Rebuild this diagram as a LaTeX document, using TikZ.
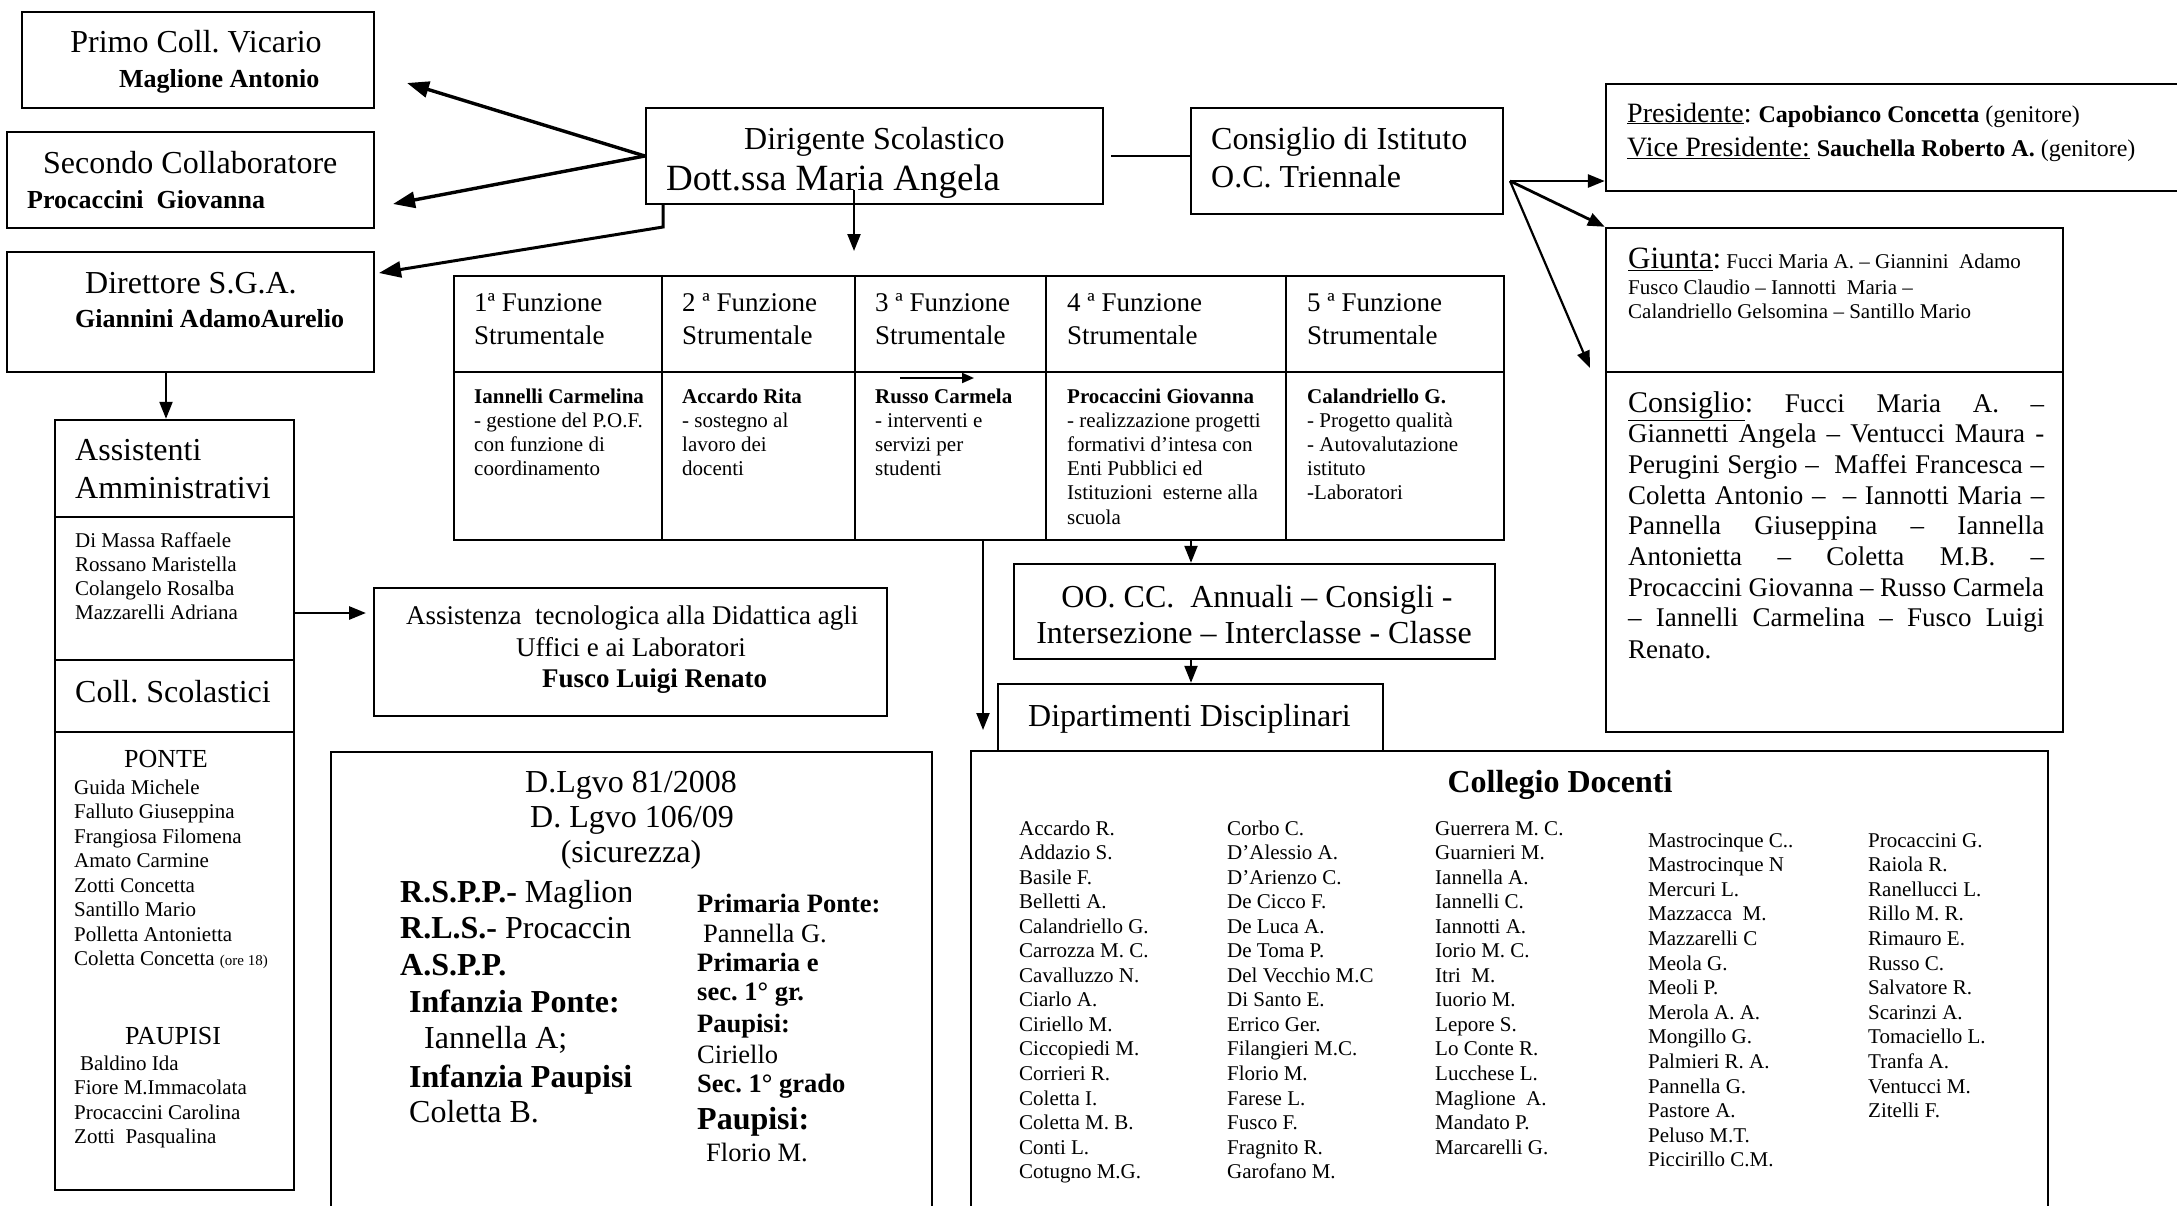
\documentclass[tikz,border=0pt]{standalone}
\usepackage{fontspec}
\setmainfont{Liberation Serif}
\usetikzlibrary{arrows.meta,calc}
\newcommand\fz[1]{\fontsize{#1}{#1}\selectfont}
\begin{document}
\frenchspacing
\begin{tikzpicture}[x=1pt,y=-1pt,
  box/.style={draw, line width=2.4pt, inner sep=0pt},
  lbl/.style={inner sep=0pt, anchor=base west},
  clbl/.style={inner sep=0pt, anchor=base},
  darr/.style={line width=3.4pt, -{Triangle[length=22pt,width=16pt]}},
  varr/.style={line width=2.2pt, -{Triangle[length=17pt,width=13pt]}},
  plain/.style={line width=2.2pt},
  sep/.style={line width=2.4pt}]
\useasboundingbox (0,0) rectangle (2177,1205);
\fill[white] (0,0) rectangle (2177,1205);

% ---------- boxes ----------
\node[box, minimum width=352pt, minimum height=96pt] (primo) at (198,60) {};
\node[box, minimum width=367pt, minimum height=96pt] (secondo) at (190.5,180) {};
\node[box, minimum width=367pt, minimum height=120pt] (direttore) at (190.5,312) {};
\node[box, minimum width=457pt, minimum height=96pt] (dirig) at (874.5,156) {};
\node[box, minimum width=312pt, minimum height=106pt] (consist) at (1347,161) {};
\node[box, minimum width=594pt, minimum height=107pt] (pres) at (1903,137.5) {};
\node[box, minimum width=457pt, minimum height=144pt] (giunta) at (1834.5,300) {};
\node[box, minimum width=457pt, minimum height=360pt] (consig) at (1834.5,552) {};
\node[box, minimum width=1050pt, minimum height=264pt] (table) at (979,408) {};
\node[box, minimum width=239pt, minimum height=770pt] (assist) at (174.5,805) {};
\node[box, minimum width=513pt, minimum height=128pt] (assistenza) at (630.5,652) {};
\node[box, minimum width=481pt, minimum height=95pt] (oocc) at (1254.5,611.5) {};
\node[box, minimum width=385pt, minimum height=67pt] (dip) at (1190.5,717.5) {};
\node[box, minimum width=1077pt, minimum height=479pt] (colleg) at (1509.5,990.5) {};
\node[box, minimum width=601pt, minimum height=478pt] (dlgvo) at (631.5,991) {};

% inner lines
\draw[sep] (table.west |- 0,372) -- (table.east |- 0,372);
\foreach \x in {662,855,1046,1286} \draw[sep] (table.north -| \x,0) -- (table.south -| \x,0);
\foreach \y in {517,660,732} \draw[sep] (assist.west |- 0,\y) -- (assist.east |- 0,\y);

% ---------- texts ----------
\node[clbl, font=\fz{32}] (primoT) at (196,52) {Primo Coll. Vicario};
\node[lbl, font=\fz{26}\bfseries] (primoN) at (119,87) {Maglione Antonio};
\node[lbl, font=\fz{32}] (secT) at (43,173) {Secondo Collaboratore};
\node[lbl, font=\fz{26}\bfseries] (secN) at (27,208) {Procaccini\ \ Giovanna};
\node[lbl, font=\fz{32}] (dirT) at (85,293) {Direttore S.G.A.};
\node[lbl, font=\fz{26}\bfseries] (dirN) at (75,327) {Giannini AdamoAurelio};
\node[lbl, font=\fz{32}] (dsT) at (744,149) {Dirigente Scolastico};
\node[lbl, font=\fz{37}] (dsN) at (666,190) {Dott.ssa Maria Angela};
\node[lbl, font=\fz{32}] (ciT) at (1211,149) {Consiglio di Istituto};
\node[lbl, font=\fz{32}] (ciN) at (1211,187) {O.C. Triennale};

\node[lbl] (presL1) at (1627,122) {\fz{28}\underline{Presidente}: \fz{24}\textbf{Capobianco Concetta} (genitore)};
\node[lbl] (presL2) at (1627,156) {\fz{28}\underline{Vice Presidente:} \fz{24}\textbf{Sauchella Roberto A.} (genitore)};

\node[lbl] (giL1) at (1628,268) {\fz{31}\underline{Giunta}:\fz{21} Fucci Maria A. – Giannini\ \ Adamo};
\node[lbl, font=\fz{21}] (giL2) at (1628,294) {Fusco Claudio – Iannotti\ \ Maria –};
\node[lbl, font=\fz{21}] (giL3) at (1628,318) {Calandriello Gelsomina – Santillo Mario};

\foreach \s [count=\i] in {{{\fz{30}\underline{Consiglio}:} Fucci Maria A. –},
  Giannetti Angela – Ventucci Maura -,
  Perugini Sergio – \ Maffei Francesca –,
  Coletta Antonio – \ – Iannotti Maria –,
  Pannella Giuseppina – Iannella,
  Antonietta – Coletta M.B. –,
  Procaccini Giovanna – Russo Carmela,
  – Iannelli Carmelina – Fusco Luigi}
  \node[lbl, font=\fz{27}] (cons\i) at (1628,{412+30.7*(\i-1)}) {\makebox[416pt][s]{\s}};
\node[lbl, font=\fz{27}] (cons9) at (1628,658) {Renato.};

% function table
\foreach \x/\n [count=\i] in {474/1ª,682/2 ª,875/3 ª,1067/4 ª,1307/5 ª} {
  \node[lbl, font=\fz{27}] (fh\i) at (\x,311) {\n\ Funzione};
  \node[lbl, font=\fz{27}] (fs\i) at (\x,344) {Strumentale};
}
\node[lbl, font=\fz{21}\bfseries] (fb1) at (474,403) {Iannelli Carmelina};
\foreach \s [count=\k] in {- gestione del P.O.F., con funzione di, coordinamento}
  \node[lbl, font=\fz{21}] (fa\k) at (474,{403+24.2*\k}) {\s};
\node[lbl, font=\fz{21}\bfseries] (fb2) at (682,403) {Accardo Rita};
\foreach \s [count=\k] in {- sostegno al, lavoro dei, docenti}
  \node[lbl, font=\fz{21}] (fc\k) at (682,{403+24.2*\k}) {\s};
\node[lbl, font=\fz{21}\bfseries] (fb3) at (875,403) {Russo Carmela};
\foreach \s [count=\k] in {- interventi e, servizi per, studenti}
  \node[lbl, font=\fz{21}] (fd\k) at (875,{403+24.2*\k}) {\s};
\node[lbl, font=\fz{21}\bfseries] (fb4) at (1067,403) {Procaccini Giovanna};
\foreach \s [count=\k] in {- realizzazione progetti, formativi d’intesa con, Enti Pubblici ed, Istituzioni\ \ esterne alla, scuola}
  \node[lbl, font=\fz{21}] (fe\k) at (1067,{403+24.2*\k}) {\s};
\node[lbl, font=\fz{21}\bfseries] (fb5) at (1307,403) {Calandriello G.};
\foreach \s [count=\k] in {- Progetto qualità, - Autovalutazione, istituto, -Laboratori}
  \node[lbl, font=\fz{21}] (ff\k) at (1307,{403+24.2*\k}) {\s};

% assistenti
\node[lbl, font=\fz{32}] (asT1) at (75,460) {Assistenti};
\node[lbl, font=\fz{32}] (asT2) at (75,498) {Amministrativi};
\foreach \s [count=\k] in {Di Massa Raffaele, Rossano Maristella, Colangelo Rosalba, Mazzarelli Adriana}
  \node[lbl, font=\fz{21}] (an\k) at (75,{547+24.3*(\k-1)}) {\s};
\node[lbl, font=\fz{32}] (csT) at (75,702) {Coll. Scolastici};
\node[clbl, font=\fz{26}] (ponte) at (166,767) {PONTE};
\foreach \s [count=\k] in {Guida Michele, Falluto Giuseppina, Frangiosa Filomena, Amato Carmine, Zotti Concetta, Santillo Mario, Polletta Antonietta, {Coletta Concetta {\fz{15}(ore 18)}}}
  \node[lbl, font=\fz{21}] (pn\k) at (74,{794+24.5*(\k-1)}) {\s};
\node[clbl, font=\fz{26}] (paup) at (173,1044) {PAUPISI};
\node[lbl, font=\fz{21}] (pp1) at (80,1070) {Baldino Ida};
\foreach \s [count=\k from 2] in {Fiore M.Immacolata, Procaccini Carolina, Zotti\ \ Pasqualina}
  \node[lbl, font=\fz{21}] (pp\k) at (74,{1070+24.6*(\k-1)}) {\s};

% assistenza
\node[lbl, font=\fz{27}] (azL1) at (406,624) {Assistenza\ \ tecnologica alla Didattica agli};
\node[clbl, font=\fz{27}] (azL2) at (631,656) {Uffici e ai Laboratori};
\node[lbl, font=\fz{27}\bfseries] (azL3) at (542,687) {Fusco Luigi Renato};

% OO.CC. and dipartimenti
\node[clbl, font=\fz{32}] (ooL1) at (1257,607) {OO. CC.\ \ Annuali – Consigli -};
\node[clbl, font=\fz{32}] (ooL2) at (1254,643) {Intersezione – Interclasse - Classe};
\node[lbl, font=\fz{32}] (dipT) at (1028,726) {Dipartimenti Disciplinari};

% collegio docenti
\node[clbl, font=\fz{32}\bfseries] (cdT) at (1560,792) {Collegio Docenti};
\foreach \s [count=\k] in {Accardo R., Addazio S., Basile F., Belletti A., Calandriello G., Carrozza M. C., Cavalluzzo N., Ciarlo A., Ciriello M., Ciccopiedi M., Corrieri R., Coletta I., Coletta M. B., Conti L., Cotugno M.G.}
  \node[lbl, font=\fz{21}] (cA\k) at (1019,{835+24.55*(\k-1)}) {\s};
\foreach \s [count=\k] in {Corbo C., D’Alessio A., D’Arienzo C., De Cicco F., De Luca A., De Toma P., Del Vecchio M.C, Di Santo E., Errico Ger., Filangieri M.C., Florio M., Farese L., Fusco F., Fragnito R., Garofano M.}
  \node[lbl, font=\fz{21}] (cB\k) at (1227,{835+24.55*(\k-1)}) {\s};
\foreach \s [count=\k] in {Guerrera M. C., Guarnieri M., Iannella A., Iannelli C., Iannotti A., Iorio M. C., Itri\ \ M., Iuorio M., Lepore S., Lo Conte R., Lucchese L., Maglione\ \ A., Mandato P., Marcarelli G.}
  \node[lbl, font=\fz{21}] (cC\k) at (1435,{835+24.55*(\k-1)}) {\s};
\foreach \s [count=\k] in {Mastrocinque C.., Mastrocinque N, Mercuri L., Mazzacca\ \ M., Mazzarelli C, Meola G., Meoli P., Merola A. A., Mongillo G., Palmieri R. A., Pannella G., Pastore A., Peluso M.T., Piccirillo C.M.}
  \node[lbl, font=\fz{21}] (cD\k) at (1648,{847+24.6*(\k-1)}) {\s};
\foreach \s [count=\k] in {Procaccini G., Raiola R., Ranellucci L., Rillo M. R., Rimauro E., Russo C., Salvatore R., Scarinzi A., Tomaciello L., Tranfa A., Ventucci M., Zitelli F.}
  \node[lbl, font=\fz{21}] (cE\k) at (1868,{847+24.6*(\k-1)}) {\s};

% D.Lgvo
\node[clbl, font=\fz{32}] (dlT1) at (631,792) {D.Lgvo 81/2008};
\node[clbl, font=\fz{32}] (dlT2) at (632,827) {D. Lgvo 106/09};
\node[clbl, font=\fz{32}] (dlT3) at (631,862) {(sicurezza)};
\begin{scope}
  \clip (380,870) rectangle (630,950);
  \node[lbl, font=\fz{32}] (rspp) at (400,902) {\textbf{R.S.P.P.-} Maglione};
  \node[lbl, font=\fz{32}] (rls) at (400,938) {\textbf{R.L.S.-} Procaccini};
\end{scope}
\node[lbl, font=\fz{32}\bfseries] (aspp) at (400,975) {A.S.P.P.};
\node[lbl, font=\fz{32}\bfseries] (infP) at (409,1012) {Infanzia Ponte:};
\node[lbl, font=\fz{32}] (infPn) at (424,1048) {Iannella A;};
\node[lbl, font=\fz{32}\bfseries] (infQ) at (409,1087) {Infanzia Paupisi};
\node[lbl, font=\fz{32}] (infQn) at (409,1122) {Coletta B.};
\node[lbl, font=\fz{26.5}\bfseries] (prP) at (697,912) {Primaria Ponte:};
\node[lbl, font=\fz{26.5}] (prPn) at (703,942) {Pannella G.};
\node[lbl, font=\fz{26.5}\bfseries] (prE) at (697,971) {Primaria e};
\node[lbl, font=\fz{26.5}\bfseries] (prE2) at (697,1000) {sec. 1° gr.};
\node[lbl, font=\fz{26.5}\bfseries] (prE3) at (697,1032) {Paupisi:};
\node[lbl, font=\fz{26.5}] (prEn) at (697,1063) {Ciriello};
\node[lbl, font=\fz{26.5}\bfseries] (sec1) at (697,1092) {Sec. 1° grado};
\node[lbl, font=\fz{32}\bfseries] (sec2) at (697,1129) {Paupisi:};
\node[lbl, font=\fz{26.5}] (secn) at (706,1161) {Florio M.};

% ---------- connectors ----------
\coordinate (tP) at (407,83);
\coordinate (tS) at (393,204);
\coordinate (tD) at (379,273);
\coordinate (bendD) at (663,227);
\draw[darr] (dirig.west) -- (tP);
\draw[darr] (dirig.west) -- (tS);
\draw[darr, line width=3pt] (dirig.south west -| bendD) -- (bendD) -- (tD);
\coordinate (dA) at (854,190);
\coordinate (dB) at (854,251);
\draw[varr] (dA) -- (dB);
\draw[plain] ([xshift=7pt]dirig.east) -- (consist.west |- dirig.east);
\coordinate (cS) at (1510,181);
\coordinate (tC) at (1590,368);
\draw[varr, line width=2.8pt] (cS) -- (pres.west |- cS);
\draw[varr, line width=2.8pt] (cS) -- (giunta.north west);
\draw[varr] (cS) -- (tC);
\coordinate (dO) at (166,372);
\draw[varr] (dO) -- (dO |- assist.north);
\coordinate (aO) at (294,613);
\coordinate (aT) at (366,613);
\draw[varr, line width=2.8pt] (aO) -- (aT);
\coordinate (sa1) at (900,378);
\coordinate (sa2) at (974,378);
\draw[line width=2pt, -{Triangle[length=12pt,width=10pt]}] (sa1) -- (sa2);
\coordinate (tb1) at (983,540);
\coordinate (tb2) at (983,730);
\draw[varr] (tb1) -- (tb2);
\coordinate (tb3) at (1191,540);
\draw[varr] (tb3) -- (tb3 |- oocc.north);
\draw[varr] (tb3 |- oocc.south) -- (tb3 |- dip.north);
\end{tikzpicture}
\end{document}
